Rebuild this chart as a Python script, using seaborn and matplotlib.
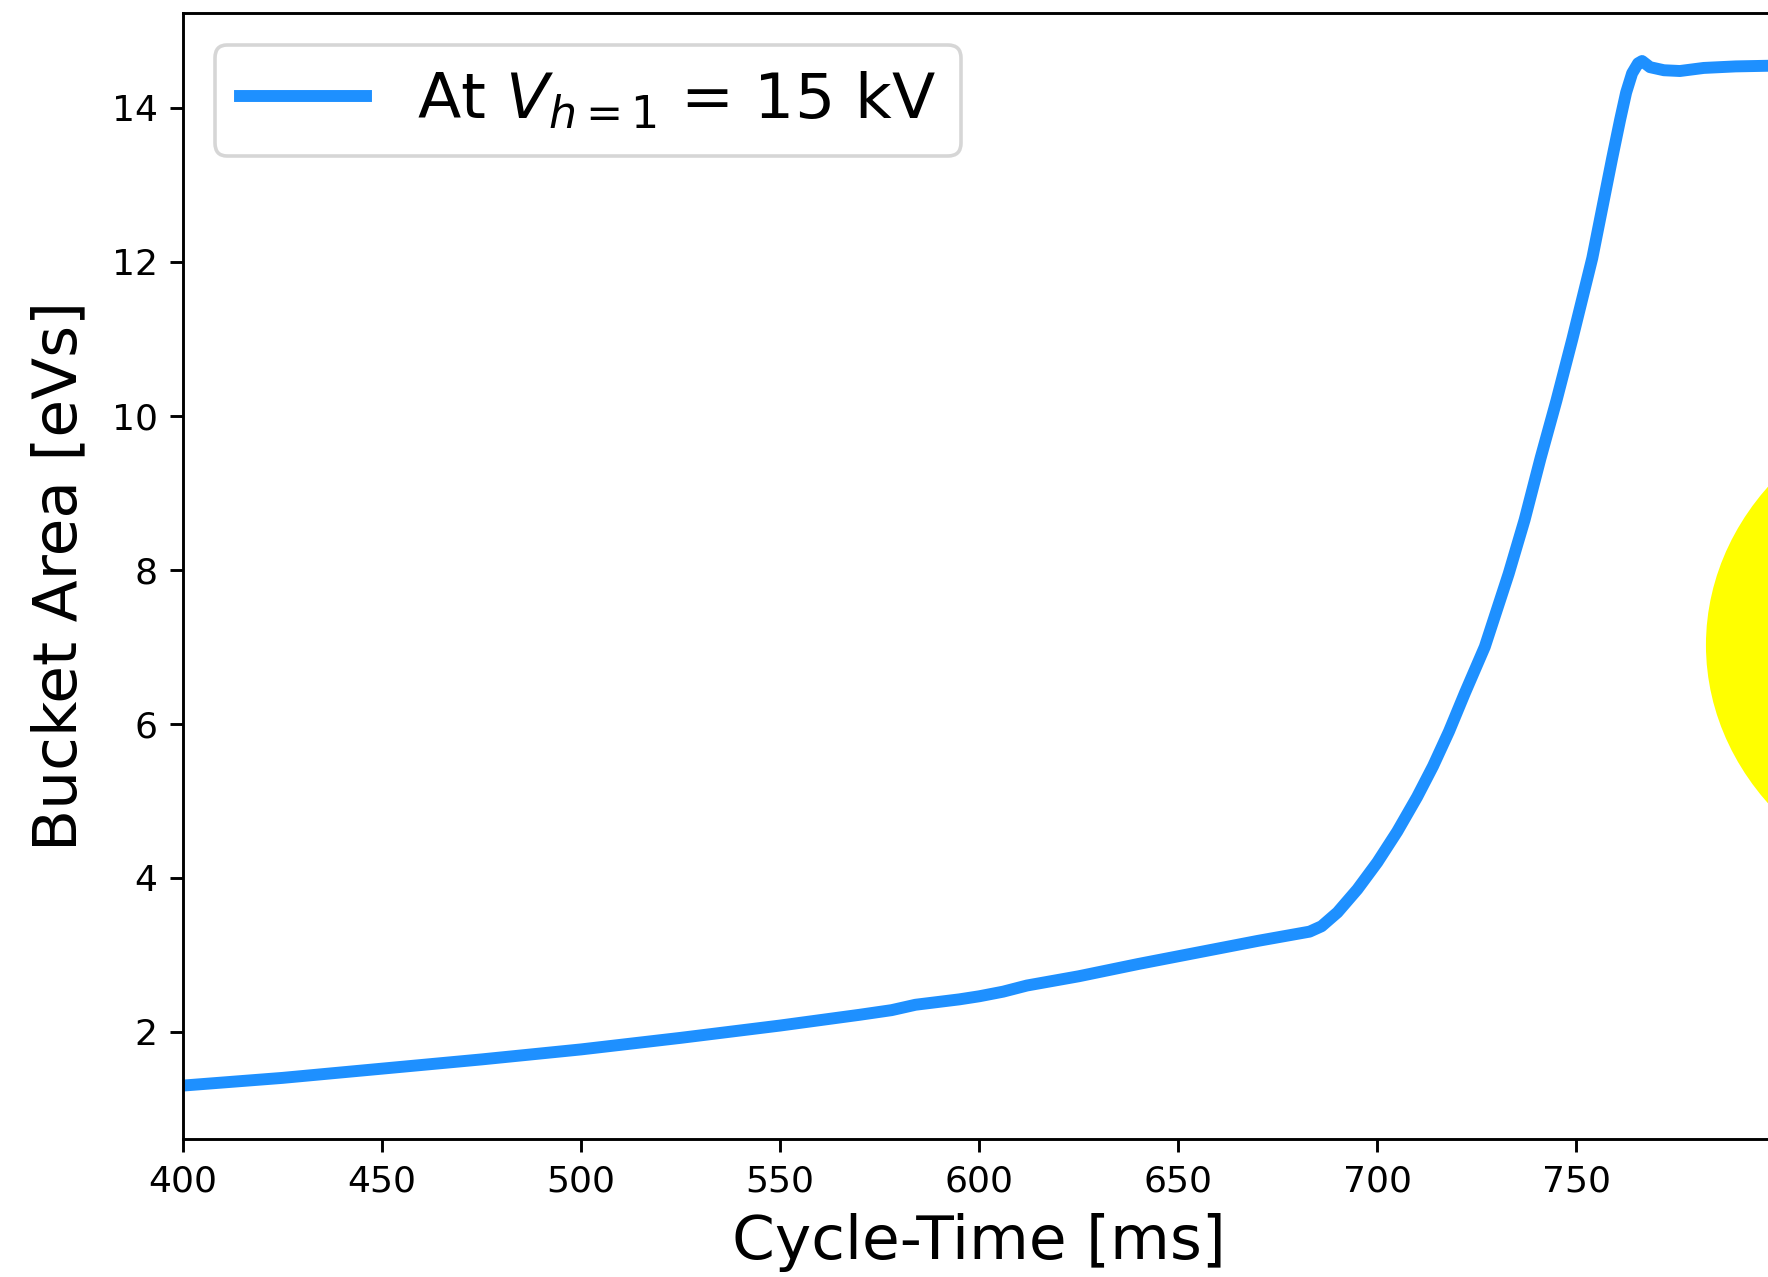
import matplotlib
matplotlib.use("Agg")
import matplotlib.pyplot as plt
from matplotlib.patches import Ellipse
import seaborn as sns
import pandas as pd

# Data
time_ms = [400, 425, 450, 475, 500, 525, 550, 570, 578, 584, 595, 600, 606, 612,
           625, 640, 655, 670, 683, 686, 690, 695, 700, 705, 710, 714, 718, 722,
           727, 733, 737, 741, 745, 749, 754, 759, 761, 762.5, 764, 765.5, 766.5,
           768.5, 772, 776, 782, 790, 800, 806]
area_evs = [1.30, 1.40, 1.52, 1.64, 1.77, 1.92, 2.08, 2.22, 2.28, 2.35, 2.42, 2.46,
            2.52, 2.60, 2.72, 2.88, 3.03, 3.18, 3.30, 3.37, 3.55, 3.85, 4.20, 4.60,
            5.05, 5.45, 5.90, 6.40, 7.00, 7.95, 8.65, 9.45, 10.20, 11.00, 12.05,
            13.35, 13.85, 14.20, 14.45, 14.58, 14.61, 14.53, 14.49, 14.48, 14.52,
            14.54, 14.55, 14.55]
series_label = r"At $V_{h=1}$ = 15 kV"
x_ticks = [400, 450, 500, 550, 600, 650, 700, 750]
y_ticks = [2, 4, 6, 8, 10, 12, 14]

df = pd.DataFrame({"t": time_ms, "a": area_evs})

DPI = 260
fig = plt.figure(figsize=(1768 / DPI, 1277 / DPI), dpi=DPI)
ax = fig.add_axes([0.1035, 0.1077, 0.9007, 0.8819])

sns.lineplot(data=df, x="t", y="a", ax=ax, color="dodgerblue", lw=3.3,
             label=series_label, sort=False)

ax.set_xlim(400, 800)
ax.set_ylim(0.6, 15.23)
ax.set_xticks(x_ticks)
ax.set_yticks(y_ticks)
ax.tick_params(labelsize=10)
ax.set_xlabel("Cycle-Time [ms]", fontsize=17)
ax.set_ylabel("Bucket Area [eVs]", fontsize=17, labelpad=6.2)
ax.legend(loc="upper left", fontsize=17.5)

# Yellow highlight ellipse at right edge (partly outside the figure)
ell = Ellipse((1.1346, 0.4949), 0.3394, 0.4072, transform=fig.transFigure,
              facecolor="#FFFF00", edgecolor="none", zorder=5)
fig.patches.append(ell)

fig.savefig("out.png", dpi=DPI)
